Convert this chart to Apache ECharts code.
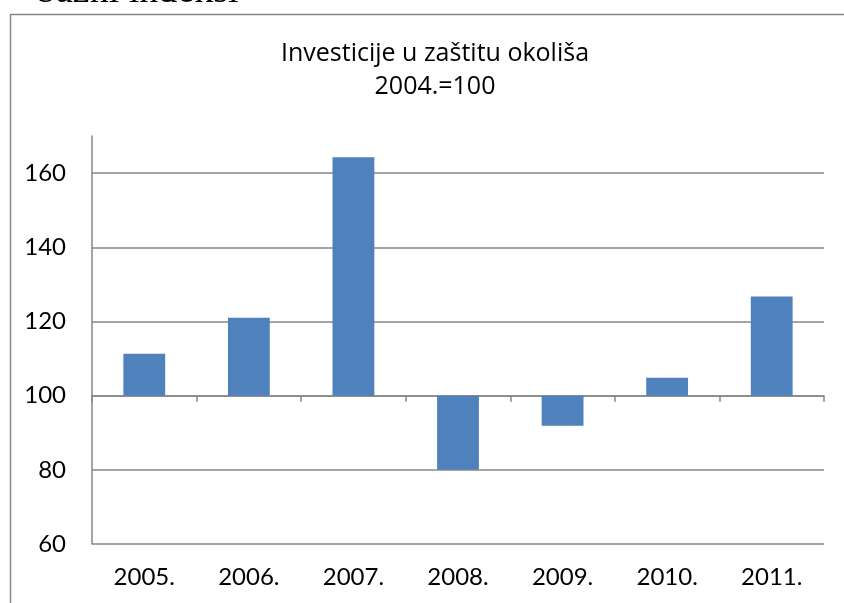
<!DOCTYPE html>
<html>
<head>
<meta charset="utf-8">
<script src="https://cdn.jsdelivr.net/npm/echarts@6/dist/echarts.min.js"></script>
<style>
  html, body { margin: 0; padding: 0; background: #fff; }
  #chart { width: 844px; height: 603px; }
</style>
</head>
<body>
<div id="chart"></div>
<script>
// base index year 2004 = 100
const BASE = 100;
const years = ['2005.', '2006.', '2007.', '2008.', '2009.', '2010.', '2011.'];
const indexValues = [111.3, 121.0, 164.3, 80.0, 91.9, 104.8, 126.7];
const yMin = 60;
const yMax = 170;
const yStep = 20;

const chart = echarts.init(document.getElementById('chart'));

const gridColor = '#878787';
const font = 'Lato, Calibri, "Open Sans", sans-serif';

// bars grow from the 100 line, so plot the offset and relabel the axis
const offsets = indexValues.map(v => +(v - BASE).toFixed(2));

chart.setOption({
  animation: false,
  textStyle: { fontFamily: font },
  graphic: [
    {
      type: 'rect',
      left: 8, top: 12,
      shape: { width: 900, height: 700 },
      style: { fill: 'none', stroke: '#888', lineWidth: 1.5 },
      silent: true
    },
    {
      type: 'text',
      x: 37, y: 11,
      style: {
        text: 'bazni indeksi',
        font: '38px "Liberation Serif", serif',
        fill: '#000',
        textVerticalAlign: 'bottom'
      },
      silent: true
    }
  ],
  title: {
    text: 'Investicije u zaštitu okoliša\n2004.=100',
    left: 430,
    textAlign: 'center',
    top: 32,
    textStyle: {
      fontFamily: '"Open Sans", sans-serif',
      fontWeight: 'normal',
      fontSize: 25,
      lineHeight: 33,
      color: '#000'
    }
  },
  grid: { left: 92, right: 20, top: 136, bottom: 59 },
  xAxis: [
    {
      type: 'category',
      data: years,
      axisLine: { onZero: true, lineStyle: { color: gridColor, width: 1.5 } },
      axisTick: { show: true, length: 6, lineStyle: { color: gridColor, width: 1.5 } },
      axisLabel: { show: false }
    },
    {
      type: 'category',
      data: years,
      position: 'bottom',
      axisLine: { show: false, onZero: false },
      axisTick: { show: false },
      axisLabel: { color: '#000', fontSize: 24, margin: 21, fontFamily: font }
    }
  ],
  yAxis: {
    type: 'value',
    min: yMin - BASE,
    max: yMax - BASE,
    interval: yStep,
    axisLine: { show: true, lineStyle: { color: gridColor, width: 1.5 } },
    axisTick: { show: false },
    axisLabel: {
      color: '#000',
      fontSize: 24,
      margin: 26,
      fontFamily: font,
      showMaxLabel: false,
      formatter: v => String(v + BASE)
    },
    splitLine: { show: true, showMaxLine: false, lineStyle: { color: gridColor, width: 1.5 } }
  },
  series: [{
    type: 'bar',
    xAxisIndex: 0,
    data: offsets,
    barCategoryGap: '60%',
    itemStyle: { color: '#4F81BD' }
  }]
});
</script>
</body>
</html>
